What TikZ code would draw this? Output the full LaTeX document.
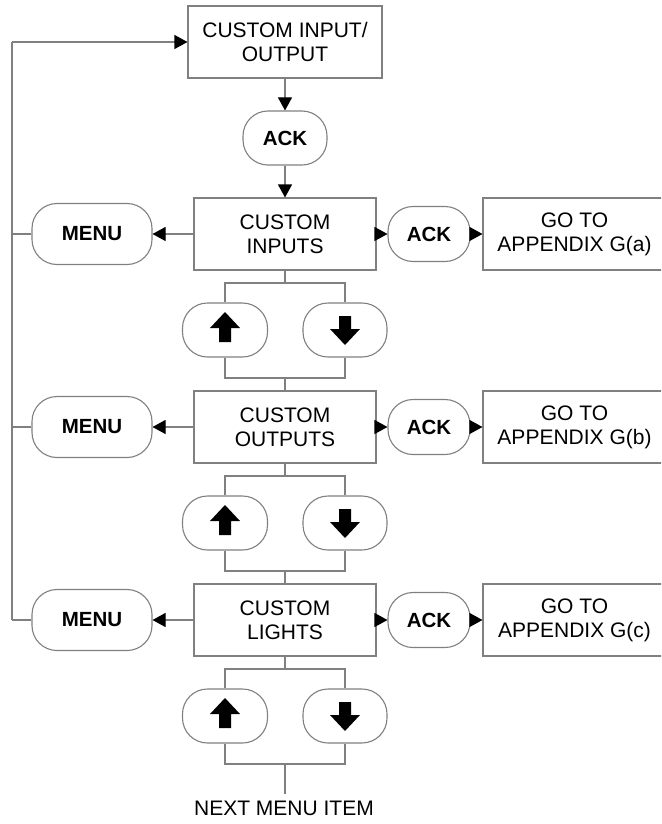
\documentclass[tikz,border=0pt]{standalone}
\usepackage{fontspec}
\setmainfont{Liberation Sans}
\usetikzlibrary{arrows.meta}
\definecolor{lc}{RGB}{128,128,128}
\tikzset{
  line/.style={draw=lc, line width=1.1pt},
  arr/.style={line, -{Triangle[length=13pt,width=14pt,black]}},
  txt/.style={font=\fontsize{21}{24}\selectfont, align=center, inner sep=0pt},
  box/.style={line, txt, rectangle, fill=white},
  btn/.style={line, rounded corners=25pt, fill=white, inner sep=0pt,
              font=\fontsize{20.5}{24}\selectfont\bfseries},
  uparrow/.pic={\fill[black] (0,-18) -- (15,-2) -- (6,-2) -- (6,12) -- (-6,12) -- (-6,-2) -- (-15,-2) -- cycle;},
  dnarrow/.pic={\fill[black] (0,15) -- (15,-1) -- (6,-1) -- (6,-14) -- (-6,-14) -- (-6,-1) -- (-15,-1) -- cycle;}
}
\begin{document}
\begin{tikzpicture}[x=1pt,y=-1pt]
\useasboundingbox (0,0) rectangle (661,824);
\clip (0,0) rectangle (661,824);

\node[box, minimum width=194pt, minimum height=72pt] (top) at (285,42) {CUSTOM INPUT/\\OUTPUT};
\node[btn, minimum width=84pt, minimum height=54pt] (ack0) at (285,138) {ACK};
\draw[arr] (top.south) -- (ack0.north);

\coordinate (L) at (12,42);
\draw[arr] (L) -- (top.west);

\foreach \i/\cy/\name/\app in {1/234/INPUTS/a, 2/427/OUTPUTS/b, 3/620/LIGHTS/c}{
  \node[box, minimum width=182pt, minimum height=72pt] (box\i) at (285,\cy) {CUSTOM\\\name};
  \node[btn, minimum width=120pt, minimum height=61pt] (menu\i) at (92,\cy) {MENU};
  \node[btn, minimum width=82pt, minimum height=55pt] (ack\i) at (429,\cy) {ACK};
  \node[box, minimum width=183pt, minimum height=72pt] (go\i) at (574.5,\cy) {GO TO\\APPENDIX G(\app)};
  \node[btn, minimum width=85pt, minimum height=54pt] (up\i) at (225,\cy+96) {};
  \node[btn, minimum width=84pt, minimum height=54pt] (dn\i) at (345,\cy+96) {};
  \pic at (up\i.center) {uparrow};
  \pic at (dn\i.center) {dnarrow};
  \draw[arr] (box\i.west) -- (menu\i.east);
  \draw[arr] (box\i.east) -- (ack\i.west);
  \draw[arr] (ack\i.east) -- (go\i.west);
  \draw[line] (menu\i.west) -- (menu\i.west -| L);
  \coordinate (bt\i) at (285,\cy+49);
  \coordinate (bb\i) at (285,\cy+144);
  \draw[line] (box\i.south) -- (bt\i);
  \draw[line] (up\i.north) |- (bt\i) -| (dn\i.north);
  \draw[line] (up\i.south) |- (bb\i) -| (dn\i.south);
}
\draw[arr] (ack0.south) -- (box1.north);
\draw[line] (L) -- (menu3.west -| L);
\draw[line] (bb1) -- (box2.north);
\draw[line] (bb2) -- (box3.north);
\coordinate (endp) at (285,794);
\draw[line] (bb3) -- (endp);
\node[txt, anchor=base] (next) at (284,815) {NEXT MENU ITEM};
\end{tikzpicture}
\end{document}
